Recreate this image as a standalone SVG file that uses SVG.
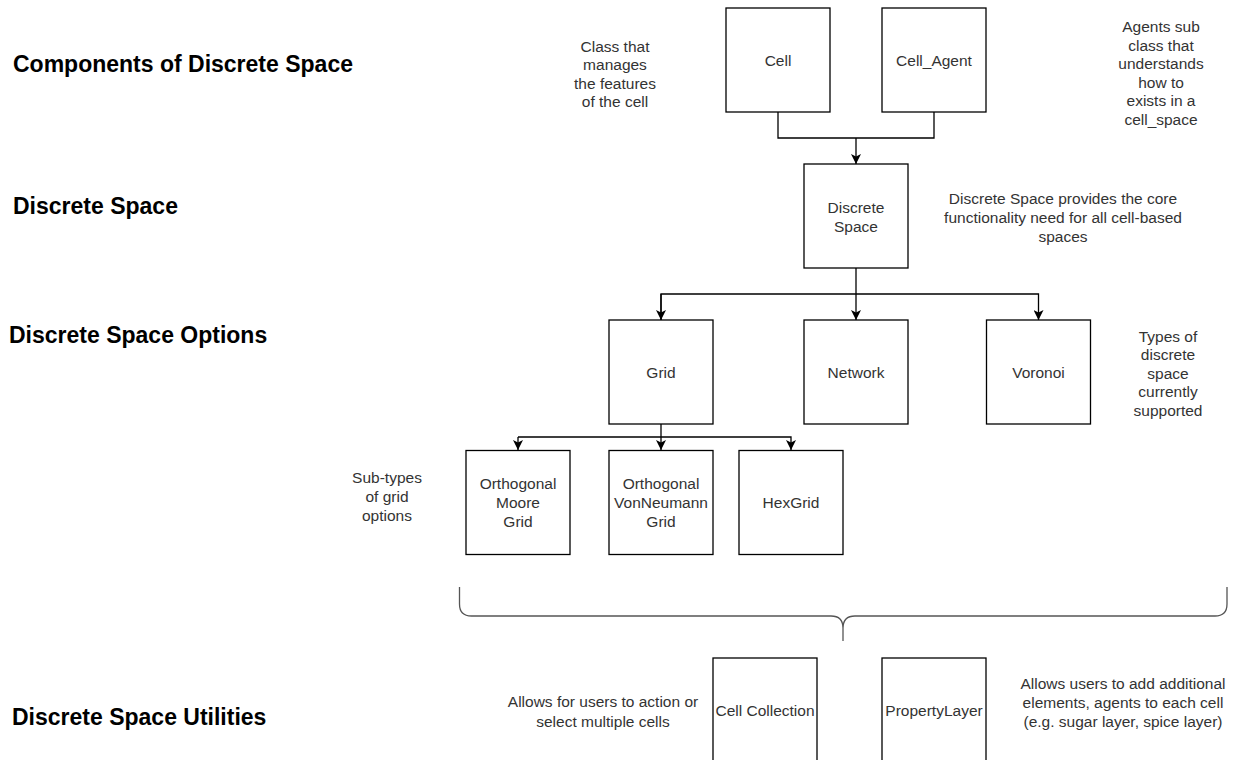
<svg xmlns="http://www.w3.org/2000/svg" width="1233" height="760" viewBox="0 0 1233 760">
<style>
.box{fill:#fff;stroke:#000;stroke-width:1.3}
.t{font-family:"Liberation Sans",Arial,sans-serif;font-size:15.5px;fill:#333;text-anchor:middle}
.h{font-family:"Liberation Sans",Arial,sans-serif;font-size:23px;font-weight:bold;fill:#000}
.c{fill:none;stroke:#000;stroke-width:1.3}
.brace{fill:none;stroke:#555;stroke-width:1.3}
</style>
<defs>
<marker id="arr" viewBox="0 0 10 10" refX="10" refY="5" markerWidth="10" markerHeight="10" markerUnits="userSpaceOnUse" orient="auto">
<path d="M0,0 L10,5 L0,10 L2.5,5 z" fill="#000"/>
</marker>
</defs>
<rect width="1233" height="760" fill="#fff"/>

<g id="headings">
<text class="h" x="13" y="72">Components of Discrete Space</text>
<text class="h" x="13" y="214">Discrete Space</text>
<text class="h" x="9" y="343">Discrete Space Options</text>
<text class="h" x="12" y="725">Discrete Space Utilities</text>
</g>

<g id="connectors">
<path class="c" d="M778 112 V138 H934 V112"/>
<path class="c" d="M856 138 V164" marker-end="url(#arr)"/>
<path class="c" d="M856 268 V294"/>
<path class="c" d="M661 320 V294 H1038.5 V320" marker-end="url(#arr)"/>
<path class="c" d="M661 294 V320" marker-end="url(#arr)"/>
<path class="c" d="M856 294 V320" marker-end="url(#arr)"/>
<path class="c" d="M661 424 V437"/>
<path class="c" d="M518 437 H791 V450" marker-end="url(#arr)"/>
<path class="c" d="M518 437 V450" marker-end="url(#arr)"/>
<path class="c" d="M661 437 V450" marker-end="url(#arr)"/>
</g>

<g id="node-cell">
<rect class="box" x="726" y="8" width="104" height="104"/>
<text class="t" x="778" y="65.5">Cell</text>
</g>
<g id="node-cell-agent">
<rect class="box" x="882" y="8" width="104" height="104"/>
<text class="t" x="934" y="65.5">Cell_Agent</text>
</g>
<g id="note-cell">
<text class="t" x="615" y="51.5">Class that</text>
<text class="t" x="615" y="70">manages</text>
<text class="t" x="615" y="88.5">the features</text>
<text class="t" x="615" y="107">of the cell</text>
</g>
<g id="note-cell-agent">
<text class="t" x="1161" y="32">Agents sub</text>
<text class="t" x="1161" y="50.5">class that</text>
<text class="t" x="1161" y="69">understands</text>
<text class="t" x="1161" y="87.5">how to</text>
<text class="t" x="1161" y="106">exists in a</text>
<text class="t" x="1161" y="124.5">cell_space</text>
</g>

<g id="node-discrete-space">
<rect class="box" x="804" y="164" width="104" height="104"/>
<text class="t" x="856" y="212.5">Discrete</text>
<text class="t" x="856" y="231.5">Space</text>
</g>
<g id="note-discrete-space">
<text class="t" x="1063" y="203.5">Discrete Space provides the core</text>
<text class="t" x="1063" y="222.5">functionality need for all cell-based</text>
<text class="t" x="1063" y="241.5">spaces</text>
</g>

<g id="node-grid">
<rect class="box" x="609" y="320" width="104" height="104"/>
<text class="t" x="661" y="377.5">Grid</text>
</g>
<g id="node-network">
<rect class="box" x="804" y="320" width="104" height="104"/>
<text class="t" x="856" y="377.5">Network</text>
</g>
<g id="node-voronoi">
<rect class="box" x="986.5" y="320" width="104" height="104"/>
<text class="t" x="1038.5" y="377.5">Voronoi</text>
</g>
<g id="note-types">
<text class="t" x="1168" y="341.5">Types of</text>
<text class="t" x="1168" y="360">discrete</text>
<text class="t" x="1168" y="378.5">space</text>
<text class="t" x="1168" y="397">currently</text>
<text class="t" x="1168" y="415.5">supported</text>
</g>

<g id="node-moore">
<rect class="box" x="466" y="450.5" width="104" height="104"/>
<text class="t" x="518" y="488.5">Orthogonal</text>
<text class="t" x="518" y="507.5">Moore</text>
<text class="t" x="518" y="526.5">Grid</text>
</g>
<g id="node-vonneumann">
<rect class="box" x="609" y="450.5" width="104" height="104"/>
<text class="t" x="661" y="488.5">Orthogonal</text>
<text class="t" x="661" y="507.5">VonNeumann</text>
<text class="t" x="661" y="526.5">Grid</text>
</g>
<g id="node-hexgrid">
<rect class="box" x="739" y="450.5" width="104" height="104"/>
<text class="t" x="791" y="507.5">HexGrid</text>
</g>
<g id="note-subtypes">
<text class="t" x="387" y="482.5">Sub-types</text>
<text class="t" x="387" y="501.5">of grid</text>
<text class="t" x="387" y="520.5">options</text>
</g>

<g id="brace">
<path class="brace" d="M459.5 587 V604 Q459.5 616 471.5 616 H831 Q843 616 843 628 Q843 616 855 616 H1215 Q1227 616 1227 604 V587"/>
<path class="brace" d="M843 628 V641"/>
</g>

<g id="node-cell-collection">
<rect class="box" x="713" y="658" width="104" height="104"/>
<text class="t" x="765" y="715.5">Cell Collection</text>
</g>
<g id="node-property-layer">
<rect class="box" x="882" y="658" width="104" height="104"/>
<text class="t" x="934" y="715.5">PropertyLayer</text>
</g>
<g id="note-cell-collection">
<text class="t" x="603" y="707">Allows for users to action or</text>
<text class="t" x="603" y="726.5">select multiple cells</text>
</g>
<g id="note-property-layer">
<text class="t" x="1123" y="688.5">Allows users to add additional</text>
<text class="t" x="1123" y="707.5">elements, agents to each cell</text>
<text class="t" x="1123" y="726.5">(e.g. sugar layer, spice layer)</text>
</g>
</svg>
